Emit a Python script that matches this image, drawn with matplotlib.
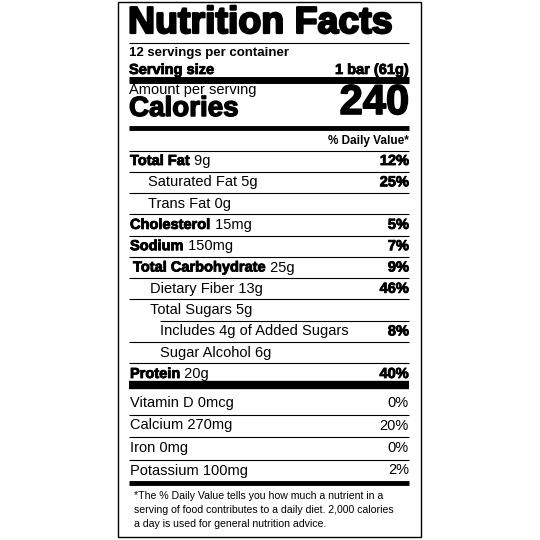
import matplotlib
matplotlib.use("Agg")
import matplotlib.pyplot as plt
import matplotlib.patheffects as pe

title = "Nutrition Facts"
servings = "12 servings per container"
serving_size = ("Serving size", "1 bar (61g)")
calories = "240"
nutrients = [
    ("Total Fat", " 9g", "12%", 0),
    ("", "Saturated Fat 5g", "25%", 1),
    ("", "Trans Fat 0g", "", 1),
    ("Cholesterol", " 15mg", "5%", 0),
    ("Sodium", " 150mg", "7%", 0),
    ("Total Carbohydrate", " 25g", "9%", 0),
    ("", "Dietary Fiber 13g", "46%", 1),
    ("", "Total Sugars 5g", "", 1),
    ("", "Includes 4g of Added Sugars", "8%", 2),
    ("", "Sugar Alcohol 6g", "", 2),
    ("Protein", " 20g", "40%", 0),
]
vitamins = [("Vitamin D 0mcg", "0%"), ("Calcium 270mg", "20%"),
            ("Iron 0mg", "0%"), ("Potassium 100mg", "2%")]
footnote = ["*The % Daily Value tells you how much a nutrient in a",
            "serving of food contributes to a daily diet. 2,000 calories",
            "a day is used for general nutrition advice."]

plt.rcParams['font.family'] = ['Liberation Sans', 'DejaVu Sans']
fig = plt.figure(figsize=(5.4, 5.4), dpi=100)
ax = fig.add_axes([0, 0, 1, 1])
ax.set_xlim(0, 540); ax.set_ylim(540, 0); ax.axis('off')

L, R = 118, 421
XL, XR = 129, 409
ax.add_patch(plt.Rectangle((L, 2), R - L, 535, fill=False, lw=1, ec='black'))

def heavy(w):
    return [pe.withStroke(linewidth=w, foreground='black')]

def hline(y, lw, x0=XL, x1=XR):
    ax.plot([x0, x1], [y, y], color='black', lw=lw, solid_capstyle='butt')

ax.text(XL - 1, 23, title, fontsize=27, fontweight='bold', va='center', ha='left',
        path_effects=heavy(1.6))
hline(43, 0.8)
ax.text(XL, 53, servings, fontsize=9.5, fontweight='bold', va='center')
ax.text(XL, 70, serving_size[0], fontsize=10.5, fontweight='bold', va='center', path_effects=heavy(0.6))
ax.text(XR, 70, serving_size[1], fontsize=10.5, fontweight='bold', va='center', ha='right', path_effects=heavy(0.6))
hline(80, 5)
ax.text(XL, 90, "Amount per serving", fontsize=10.5, va='center')
ax.text(XR, 103, calories, fontsize=30, fontweight='bold', va='center', ha='right', path_effects=heavy(1.2))
ax.text(XL, 109, "Calories", fontsize=20, fontweight='bold', va='center', path_effects=heavy(1.0))
hline(128, 3.5)
ax.text(XR, 141, "% Daily Value*", fontsize=8.5, fontweight='bold', va='center', ha='right')

indents = [XL + 1, XL + 19, XL + 31]
y = 161
step = 21.3
hline(151, 0.8)
for i, (b, rest, dv, ind) in enumerate(nutrients):
    x = indents[ind] if b != "Total Carbohydrate" else XL + 4
    if ind == 1 and rest.startswith(("Dietary", "Total Sugars")):
        x = XL + 21
    if b:
        t = ax.text(x, y, b, fontsize=10.5, fontweight='bold', va='center', path_effects=heavy(0.6))
        fig.canvas.draw()
        bb = t.get_window_extent().transformed(ax.transData.inverted())
        ax.text(bb.x1, y, rest, fontsize=10.5, va='center')
    else:
        ax.text(x, y, rest, fontsize=10.5, va='center')
    if dv:
        ax.text(XR, y, dv, fontsize=10.5, fontweight='bold', va='center', ha='right', path_effects=heavy(0.6))
    if i < len(nutrients) - 1:
        x0 = XL + 31 if rest.startswith("Total Sugars") else XL
        hline(y + 10.6, 0.8, x0)
    y += step
hline(385, 6)

y = 403
for i, (n, dv) in enumerate(vitamins):
    ax.text(XL + 1, y, n, fontsize=10.5, va='center')
    ax.text(XR, y, dv, fontsize=10.5, va='center', ha='right')
    if i < len(vitamins) - 1:
        hline(y + 11.5, 0.8)
    y += 22.5
hline(483, 3.5)
for j, line in enumerate(footnote):
    ax.text(XL + 5, 496 + j * 14, line, fontsize=7.6, va='center')

fig.savefig("out.png", dpi=100)
